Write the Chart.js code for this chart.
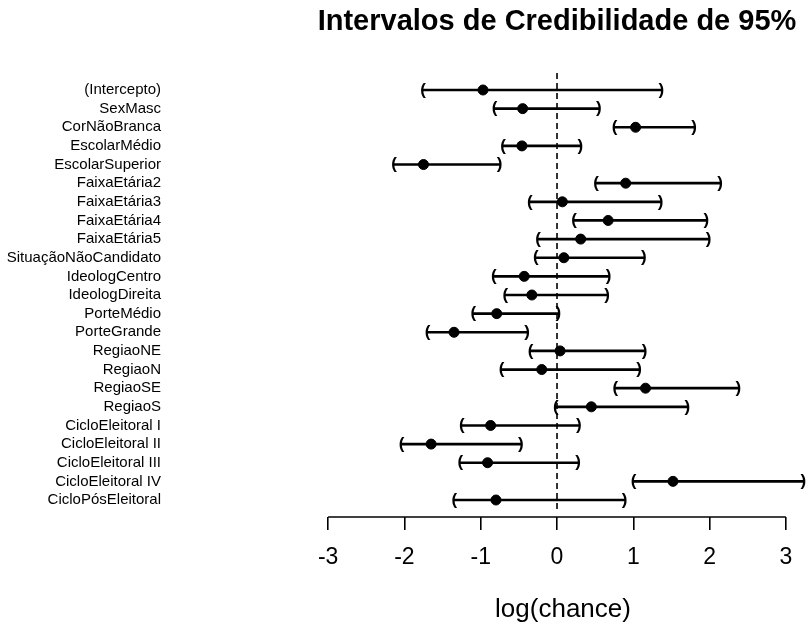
<!DOCTYPE html>
<html>
<head>
<meta charset="utf-8">
<script src="https://cdn.jsdelivr.net/npm/chart.js@4"></script>
<style>
  body { margin: 0; background: #fff; }
  #wrap { width: 808px; height: 627px; }
</style>
</head>
<body>
<div id="wrap"><canvas id="ciChart"></canvas></div>
<script>
const labels = ['(Intercepto)', 'SexMasc', 'CorNãoBranca', 'EscolarMédio', 'EscolarSuperior',
  'FaixaEtária2', 'FaixaEtária3', 'FaixaEtária4', 'FaixaEtária5', 'SituaçãoNãoCandidato',
  'IdeologCentro', 'IdeologDireita', 'PorteMédio', 'PorteGrande', 'RegiaoNE', 'RegiaoN',
  'RegiaoSE', 'RegiaoS', 'CicloEleitoral I', 'CicloEleitoral II', 'CicloEleitoral III',
  'CicloEleitoral IV', 'CicloPósEleitoral'];
const lower = [-1.77, -0.83, 0.74, -0.72, -2.15, 0.50, -0.37, 0.21, -0.26, -0.29,
  -0.84, -0.69, -1.11, -1.71, -0.36, -0.74, 0.75, -0.03, -1.26, -2.05, -1.28, 0.99, -1.36];
const estimate = [-0.97, -0.45, 1.03, -0.46, -1.75, 0.90, 0.07, 0.67, 0.31, 0.09,
  -0.43, -0.33, -0.79, -1.35, 0.04, -0.20, 1.16, 0.45, -0.87, -1.65, -0.91, 1.52, -0.80];
const upper = [1.38, 0.56, 1.81, 0.32, -0.74, 2.15, 1.37, 1.97, 2.00, 1.15,
  0.69, 0.67, 0.03, -0.38, 1.16, 1.09, 2.39, 1.72, 0.30, -0.46, 0.29, 3.24, 0.90];
const xTicks = [-3, -2, -1, 0, 1, 2, 3];

const fontFamily = '"Liberation Sans", Arial, sans-serif';

// parenteses, linha tracejada em 0, eixo x, titulo e rotulo do eixo
const extras = {
  id: 'extras',
  beforeDatasetsDraw(chart) {
    const { ctx, chartArea, scales: { x } } = chart;
    const x0 = x.getPixelForValue(0);
    ctx.save();
    ctx.strokeStyle = '#000';
    ctx.lineWidth = 1.6;
    ctx.setLineDash([6, 4]);
    ctx.beginPath();
    ctx.moveTo(x0, chartArea.top);
    ctx.lineTo(x0, chartArea.bottom - 4);
    ctx.stroke();
    ctx.restore();
  },
  afterDatasetsDraw(chart) {
    const { ctx, chartArea, scales: { x, y } } = chart;
    ctx.save();
    ctx.fillStyle = '#000';
    ctx.font = 'bold 17px ' + fontFamily;
    ctx.textAlign = 'center';
    ctx.textBaseline = 'middle';
    labels.forEach((_, i) => {
      const py = y.getPixelForValue(i);
      ctx.fillText('(', x.getPixelForValue(lower[i]) + 1, py);
      ctx.fillText(')', x.getPixelForValue(upper[i]) - 1, py);
    });
    // eixo
    const xa = x.getPixelForValue(xTicks[0]);
    const xb = x.getPixelForValue(xTicks[xTicks.length - 1]);
    ctx.strokeStyle = '#000';
    ctx.lineWidth = 1.6;
    ctx.beginPath();
    ctx.moveTo(xa, chartArea.bottom);
    ctx.lineTo(xb, chartArea.bottom);
    ctx.stroke();
    // titulo
    ctx.font = 'bold 29px ' + fontFamily;
    ctx.textBaseline = 'alphabetic';
    ctx.fillText('Intervalos de Credibilidade de 95%', x.getPixelForValue(0), 30);
    ctx.font = '26px ' + fontFamily;
    ctx.textBaseline = 'middle';
    ctx.fillText('log(chance)', (xa + xb) / 2 + 6, 610);
    ctx.restore();
  }
};

new Chart(document.getElementById('ciChart'), {
  type: 'bar',
  data: {
    datasets: [{
      type: 'bar',
      data: labels.map((_, i) => ({ x: [lower[i], upper[i]], y: i })),
      backgroundColor: '#000',
      barThickness: 2,
      borderSkipped: false,
      clip: false
    }, {
      type: 'scatter',
      data: labels.map((_, i) => ({ x: estimate[i], y: i })),
      backgroundColor: '#000',
      borderColor: '#000',
      pointRadius: 5,
      pointHoverRadius: 5,
      clip: false
    }]
  },
  options: {
    indexAxis: 'y',
    responsive: true,
    maintainAspectRatio: false,
    animation: false,
    layout: { padding: { top: 73, left: 0, right: 0, bottom: 0 } },
    plugins: {
      legend: { display: false },
      tooltip: { enabled: false }
    },
    scales: {
      x: {
        type: 'linear',
        min: -5.138,
        max: 3.211,
        offset: false,
        afterBuildTicks: s => { s.ticks = xTicks.map(v => ({ value: v })); },
        afterFit: s => { s.height = 110; },
        grid: { drawOnChartArea: false, drawTicks: true, tickLength: 13, color: '#000', lineWidth: 1.6, offset: false },
        border: { display: false },
        ticks: { color: '#000', font: { size: 23, family: fontFamily }, padding: 14, autoSkip: false, maxRotation: 0 }
      },
      y: {
        type: 'linear',
        reverse: true,
        offset: false,
        min: -0.912,
        max: 22.912,
        afterBuildTicks: s => { s.ticks = labels.map((_, i) => ({ value: i })); },
        afterFit: s => { s.width = 165; s.paddingTop = 0; s.paddingBottom = 0; },
        grid: { display: false, drawTicks: false, tickLength: 0, offset: false },
        border: { display: false },
        ticks: {
          color: '#000',
          font: { size: 15, family: fontFamily },
          padding: 4,
          autoSkip: false,
          callback: v => labels[v]
        }
      }
    }
  },
  plugins: [extras]
});
</script>
</body>
</html>
